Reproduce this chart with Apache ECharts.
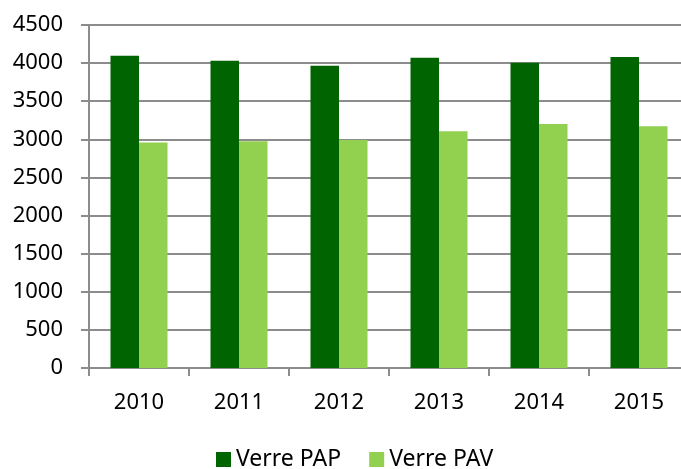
<!DOCTYPE html>
<html>
<head>
<meta charset="utf-8">
<script src="https://cdn.jsdelivr.net/npm/echarts@6/dist/echarts.min.js"></script>
<style>
html,body{margin:0;padding:0;background:#fff;overflow:hidden;width:681px;height:469px;}
#c{width:689px;height:469px;}
</style>
</head>
<body>
<div id="c"></div>
<script>
var categories = ['2010', '2011', '2012', '2013', '2014', '2015'];
var verrePAP = [4097, 4030, 3965, 4071, 4005, 4079];
var verrePAV = [2960, 2975, 2990, 3105, 3200, 3171];
var seriesNames = ['Verre PAP', 'Verre PAV'];

var FONT = '"Noto Sans", "Open Sans", sans-serif';
var chart = echarts.init(document.getElementById('c'));
chart.setOption({
  animation: false,
  backgroundColor: '#ffffff',
  textStyle: { fontFamily: FONT },
  grid: { left: 89, top: 25, right: 0, height: 343, containLabel: false },
  legend: {
    data: seriesNames,
    left: 211,
    top: 443,
    itemWidth: 15,
    itemHeight: 15,
    itemGap: 28,
    icon: 'rect',
    textStyle: { fontSize: 23, color: '#000', fontFamily: FONT }
  },
  xAxis: {
    type: 'category',
    data: categories,
    axisLine: { show: true, lineStyle: { color: '#8c8c8c', width: 2 } },
    axisTick: { show: true, length: 8, alignWithLabel: false, lineStyle: { color: '#8c8c8c', width: 2 } },
    axisLabel: { fontSize: 22, color: '#000', margin: 24, fontFamily: FONT },
    splitLine: { show: false }
  },
  yAxis: {
    type: 'value',
    min: 0,
    max: 4500,
    interval: 500,
    axisLine: { show: true, lineStyle: { color: '#8c8c8c', width: 2 } },
    axisTick: { show: true, length: 8, inside: false, lineStyle: { color: '#8c8c8c', width: 2 } },
    axisLabel: { fontSize: 22, color: '#000', margin: 26, fontFamily: FONT, formatter: function (v) { return String(v); } },
    splitLine: { show: true, lineStyle: { color: '#8c8c8c', width: 2 } }
  },
  series: [
    {
      name: seriesNames[0],
      type: 'bar',
      data: verrePAP,
      itemStyle: { color: '#006400' },
      barGap: '0%',
      barCategoryGap: '43%'
    },
    {
      name: seriesNames[1],
      type: 'bar',
      data: verrePAV,
      itemStyle: { color: '#92d050' }
    }
  ]
});
</script>
</body>
</html>
